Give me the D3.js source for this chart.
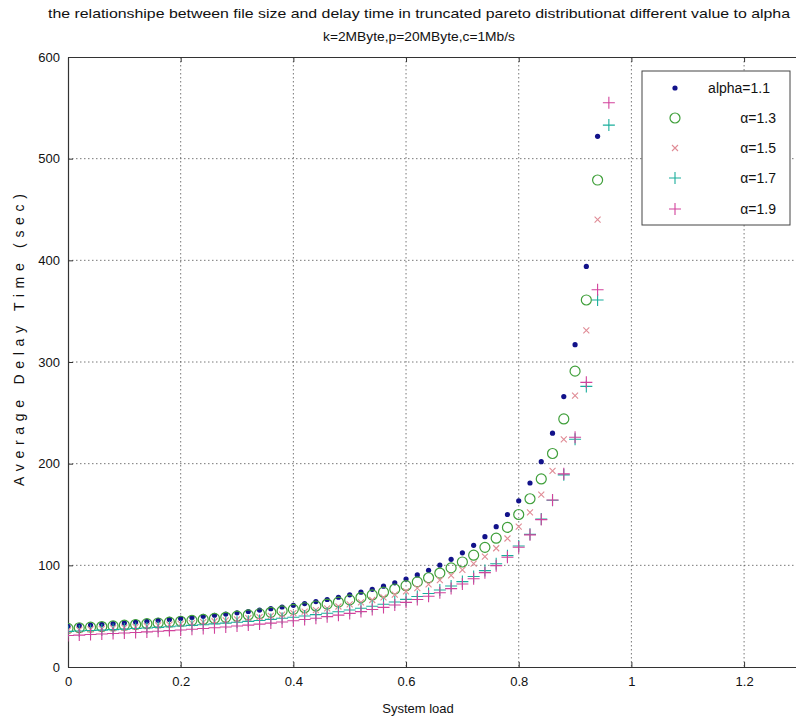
<!DOCTYPE html>
<html>
<head>
<meta charset="utf-8">
<script src="https://cdn.jsdelivr.net/npm/d3@7"></script>
<style>
	body { margin: 0; background: #fff; }
	svg { display: block; }
	text { font-family: "Liberation Sans Narrow", "Arial Narrow", "Liberation Sans", sans-serif; fill: #111; }
</style>
</head>
<body>
<svg width="796" height="724"></svg>
<script>
// System load values (x)
const load = [0, 0.02, 0.04, 0.06, 0.08, 0.1, 0.12, 0.14, 0.16, 0.18, 0.2, 0.22, 0.24, 0.26, 0.28, 0.3,
	0.32, 0.34, 0.36, 0.38, 0.4, 0.42, 0.44, 0.46, 0.48, 0.5, 0.52, 0.54, 0.56, 0.58, 0.6, 0.62, 0.64,
	0.66, 0.68, 0.7, 0.72, 0.74, 0.76, 0.78, 0.8, 0.82, 0.84, 0.86, 0.88, 0.9, 0.92, 0.94, 0.96];

// Average delay time (sec); points above 600 are off the chart
const alpha11 = [40, 40.6, 41.3, 42, 42.7, 43.4, 44.2, 45, 45.9, 46.8, 47.8, 48.7, 49.8, 50.9, 52.1, 53.3,
	54.6, 56, 57.4, 59, 60.7, 62.4, 64.4, 66.4, 68.6, 71, 73.6, 76.4, 79.5, 82.8, 86.5, 90.6, 95.1,
	100.2, 105.9, 112.3, 119.7, 128.2, 138, 150, 163.5, 181, 202, 230, 266, 317, 394, 522];
const alpha13 = [38, 38.6, 39.2, 39.8, 40.4, 41.1, 41.8, 42.6, 43.3, 44.1, 45, 45.9, 46.8, 47.8, 48.9, 50,
	51.2, 52.4, 53.8, 55.2, 56.7, 58.3, 60, 61.9, 63.8, 66, 68.3, 70.9, 73.6, 76.7, 80, 83.7, 87.8,
	92.4, 97.5, 103.3, 110, 117.7, 126.7, 137.3, 150, 165.5, 185, 210, 244, 291, 361, 479];
const alpha15 = [36, 36.5, 37.1, 37.6, 38.2, 38.8, 39.5, 40.2, 40.9, 41.6, 42.4, 43.2, 44.1, 45, 45.9, 46.9,
	48, 49.1, 50.3, 51.6, 53, 54.5, 56, 57.7, 59.5, 61.5, 63.6, 65.9, 68.5, 71.2, 74.3, 77.6, 81.3,
	85.5, 90.2, 95.5, 101.6, 108.6, 116.8, 126.4, 138, 152, 169.5, 193, 224, 267, 331, 440];
const alpha17 = [35, 35.4, 35.9, 36.3, 36.8, 37.3, 37.9, 38.4, 39, 39.6, 40.3, 40.9, 41.6, 42.4, 43.2, 44,
	44.9, 45.8, 46.8, 47.9, 49, 50.2, 51.5, 52.9, 54.4, 56, 57.8, 59.7, 61.7, 64, 66.5, 69.3, 72.3,
	75.8, 79.6, 84, 89, 94.8, 101.5, 109.5, 119, 130.5, 145.5, 164, 189, 224, 276, 361, 533];
const alpha19 = [31, 31.4, 31.9, 32.4, 32.9, 33.4, 34, 34.5, 35.1, 35.8, 36.4, 37.1, 37.9, 38.6, 39.4, 40.3,
	41.2, 42.2, 43.2, 44.3, 45.5, 46.7, 48, 49.5, 51, 52.7, 54.5, 56.5, 58.6, 61, 63.6, 66.4, 69.6,
	73.1, 77.1, 81.6, 86.8, 92.8, 99.7, 107.9, 117.8, 130, 145, 164.3, 190, 226, 280, 371, 555];

const legendLabels = ["alpha=1.1", "\u03b1=1.3", "\u03b1=1.5", "\u03b1=1.7", "\u03b1=1.9"];
const xTicks = [0, 0.2, 0.4, 0.6, 0.8, 1, 1.2];
const yTicks = [0, 100, 200, 300, 400, 500, 600];

const series = [
	{ label: legendLabels[0], values: alpha11, marker: "dot", color: "#12128a" },
	{ label: legendLabels[1], values: alpha13, marker: "circle", color: "#3f9f3a" },
	{ label: legendLabels[2], values: alpha15, marker: "x", color: "#e08c96" },
	{ label: legendLabels[3], values: alpha17, marker: "plus", color: "#1aae9c" },
	{ label: legendLabels[4], values: alpha19, marker: "plus", color: "#d2429c" },
];

const svg = d3.select("svg");
const plotLeft = 68, plotTop = 57, plotBottom = 667;

const x = d3.scaleLinear().domain([0, 1.4]).range([plotLeft, plotLeft + 1.4 * 563.4]);
const y = d3.scaleLinear().domain([0, 600]).range([plotBottom, plotTop]);
const plotRight = x(1.4);

svg.append("defs").append("clipPath").attr("id", "plotclip")
	.append("rect").attr("x", plotLeft).attr("y", plotTop)
	.attr("width", plotRight - plotLeft).attr("height", plotBottom - plotTop);

// grid
const grid = svg.append("g").attr("stroke", "#555").attr("stroke-width", 0.8).attr("stroke-dasharray", "1.5,2.5");
grid.selectAll(".gx").data(xTicks.filter((d) => d > 0)).join("line")
	.attr("x1", (d) => x(d)).attr("x2", (d) => x(d)).attr("y1", plotTop).attr("y2", plotBottom);
grid.selectAll(".gy").data(yTicks.filter((d) => d > 0 && d < 600)).join("line")
	.attr("y1", (d) => y(d)).attr("y2", (d) => y(d)).attr("x1", plotLeft).attr("x2", plotRight);

// axes
const xAxis = svg.append("g").attr("transform", `translate(0,${plotBottom})`)
	.call(d3.axisBottom(x).tickValues(xTicks).tickSizeInner(-5).tickSizeOuter(0).tickPadding(10).tickFormat(d3.format("")));
const xAxisTop = svg.append("g").attr("transform", `translate(0,${plotTop})`)
	.call(d3.axisTop(x).tickValues(xTicks).tickSizeInner(-5).tickSizeOuter(0).tickFormat(""));
const yAxis = svg.append("g").attr("transform", `translate(${plotLeft},0)`)
	.call(d3.axisLeft(y).tickValues(yTicks).tickSizeInner(-5).tickSizeOuter(0).tickPadding(8));
[xAxis, xAxisTop, yAxis].forEach((g) => {
	g.select(".domain").attr("stroke", "#333").attr("stroke-width", 1.2);
	g.selectAll(".tick line").attr("stroke", "#333");
	g.selectAll(".tick text").attr("font-size", 13).attr("fill", "#111")
		.style("font-family", "'Liberation Sans', sans-serif");
});

// markers
const symbol = (g, kind, color) => {
	if (kind === "dot") {
		g.append("circle").attr("r", 2.6).attr("fill", color);
	} else if (kind === "circle") {
		g.append("circle").attr("r", 5).attr("fill", "none").attr("stroke", color).attr("stroke-width", 1.2);
	} else if (kind === "x") {
		g.append("path").attr("d", "M-3,-3L3,3M-3,3L3,-3").attr("stroke", color).attr("stroke-width", 1.1);
	} else {
		g.append("path").attr("d", "M-6,0L6,0M0,-6L0,6").attr("stroke", color).attr("stroke-width", 1.1);
	}
};

const plot = svg.append("g").attr("clip-path", "url(#plotclip)");
series.forEach((s) => {
	plot.append("g").selectAll("g")
		.data(s.values.map((v, i) => ({ x: load[i], v: v })))
		.join("g")
		.attr("transform", (d) => `translate(${x(d.x)},${y(d.v)})`)
		.each(function () { symbol(d3.select(this), s.marker, s.color); });
});

// legend
const legend = svg.append("g");
legend.append("rect").attr("x", 642).attr("y", 71).attr("width", 148).attr("height", 154)
	.attr("fill", "#fff").attr("stroke", "#444").attr("stroke-width", 1);
const legY = [88, 118, 148, 178, 209];
series.forEach((s, i) => {
	const g = legend.append("g").attr("transform", `translate(675,${legY[i]})`);
	symbol(g, s.marker, s.color);
	legend.append("text").attr("x", i === 0 ? 770 : 776).attr("y", legY[i] + 5)
		.attr("text-anchor", "end").attr("font-size", 14).text(s.label);
});

// titles
svg.append("text").attr("x", 419).attr("y", 18).attr("text-anchor", "middle").attr("font-size", 13)
	.attr("textLength", 742).attr("lengthAdjust", "spacingAndGlyphs")
	.text("the relationshipe between file size and delay time in truncated pareto distributionat different value to alpha");
svg.append("text").attr("x", 419).attr("y", 41).attr("text-anchor", "middle").attr("font-size", 13)
	.attr("textLength", 192).attr("lengthAdjust", "spacingAndGlyphs")
	.text("k=2MByte,p=20MByte,c=1Mb/s");
svg.append("text").attr("x", 418).attr("y", 713).attr("text-anchor", "middle").attr("font-size", 13)
	.text("System load");
svg.append("text").attr("transform", "translate(24,340) rotate(-90)").attr("text-anchor", "middle")
	.attr("font-size", 14).attr("textLength", 292).attr("lengthAdjust", "spacing")
	.text("Average Delay Time (sec)");
</script>
</body>
</html>
